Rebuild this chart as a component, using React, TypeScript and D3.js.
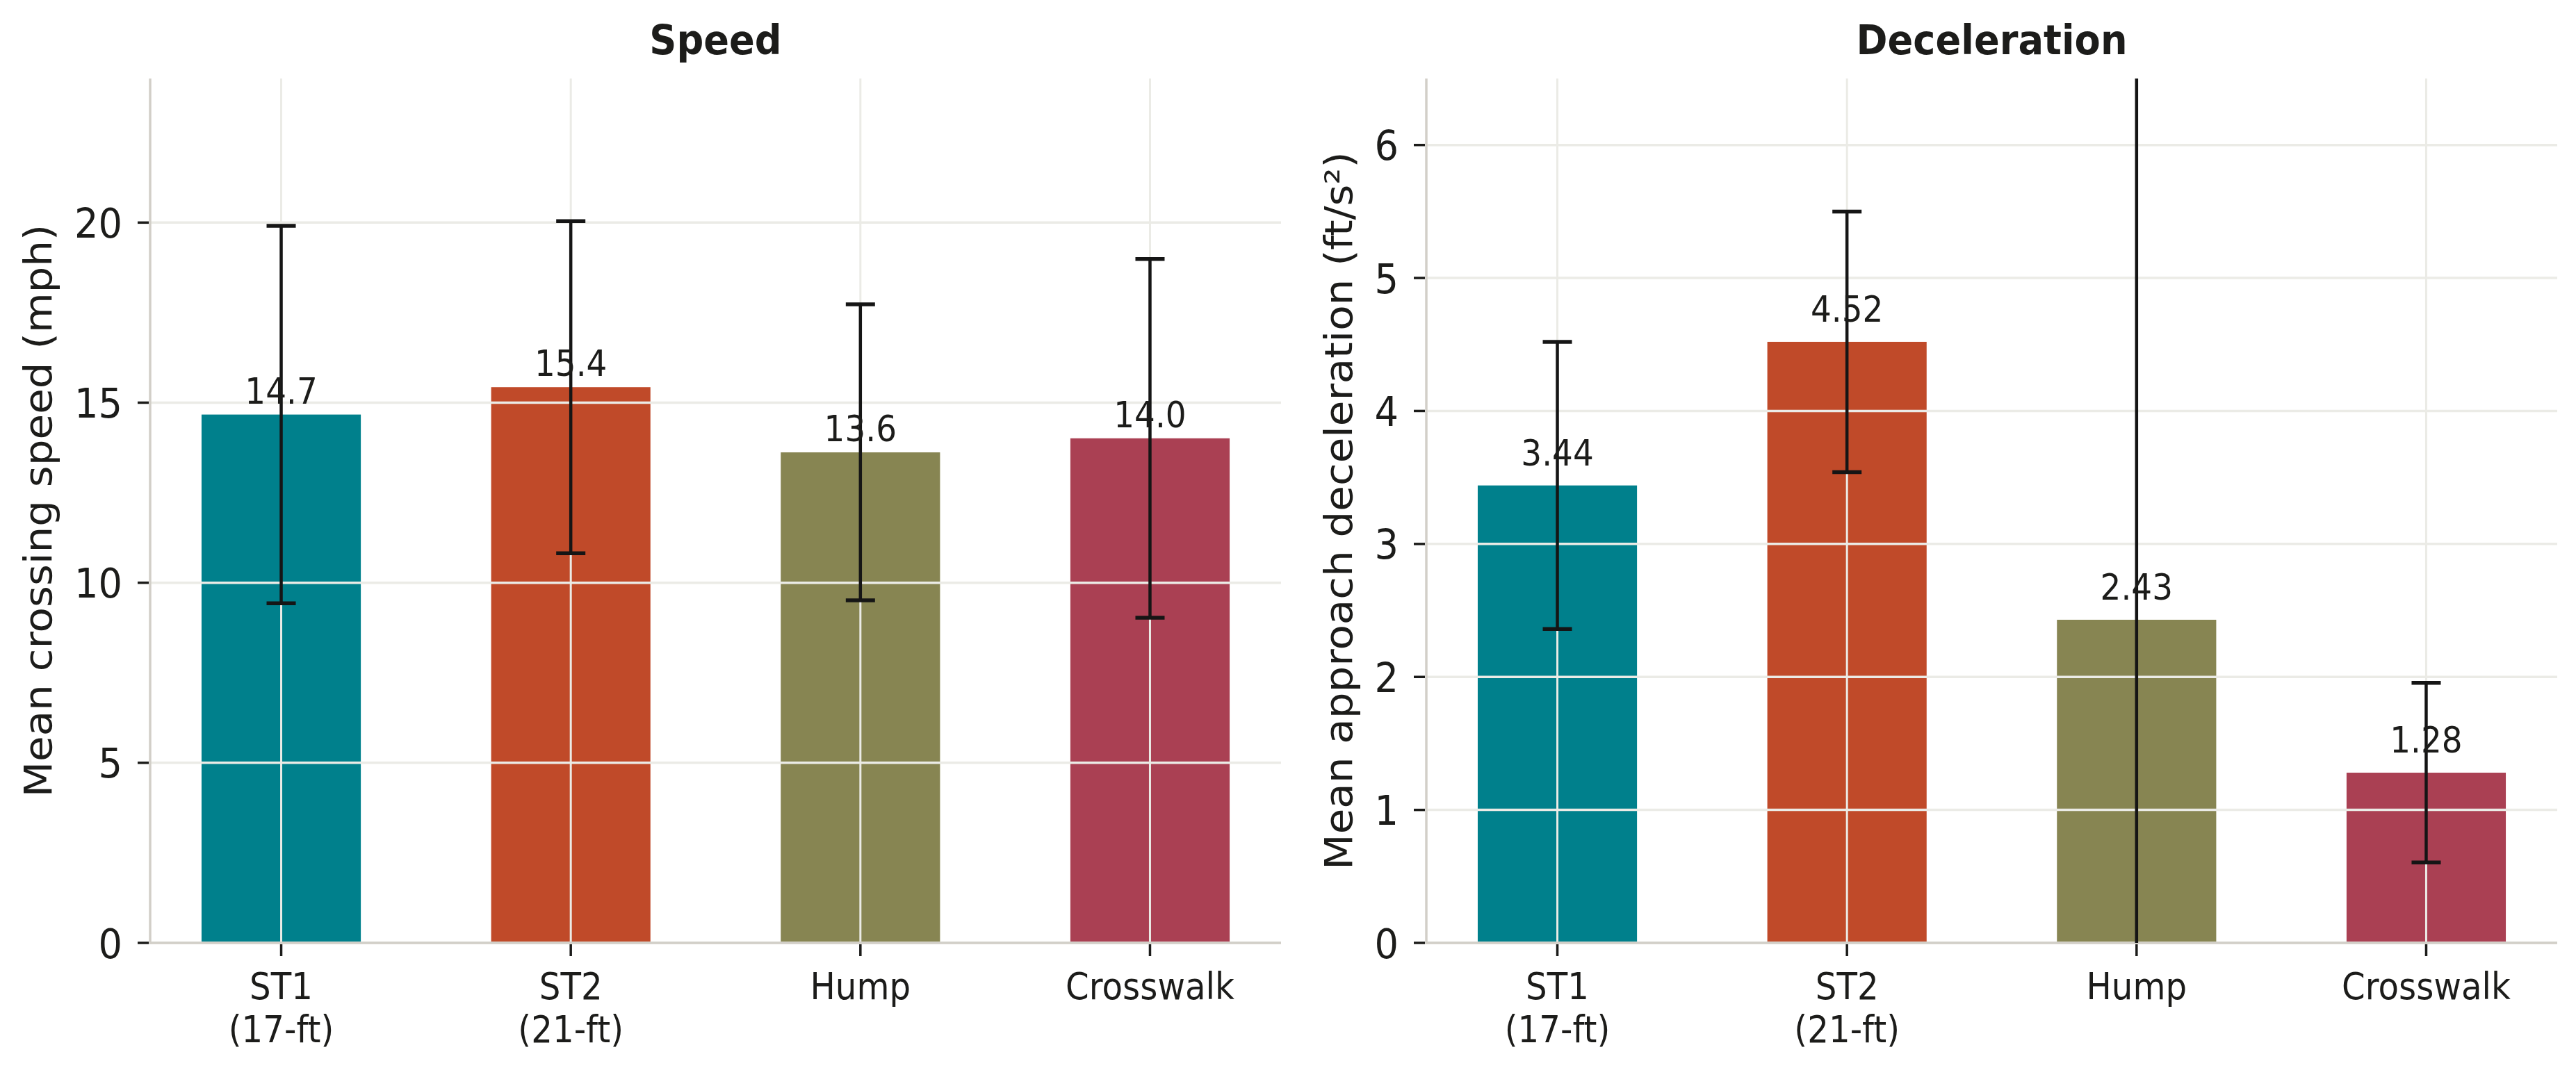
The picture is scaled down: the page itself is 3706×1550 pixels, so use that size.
import React from "react";
import * as d3 from "d3";

// ---------- data ----------
const categories: string[][] = [["ST1", "(17-ft)"], ["ST2", "(21-ft)"], ["Hump"], ["Crosswalk"]];
const barColors = ["#00808c", "#c04a29", "#878552", "#aa4053"];
const speedMeans = [14.67, 15.43, 13.62, 14.01];
const speedSD = [5.24, 4.61, 4.11, 4.98];
const decelMeans = [3.44, 4.52, 2.43, 1.28];
const decelSD = [1.08, 0.98, 4.5, 0.675];
const speedTicks = [0, 5, 10, 15, 20];
const decelTicks = [0, 1, 2, 3, 4, 5, 6];

// ---------- style ----------
const W = 3706;
const H = 1550;
const SX = 0.92; // horizontal text squeeze
const TEXT = "#1c1c1a";
const GRID = "#ebebe6";
const SPINE = "#d2cfc8";
const FONT = "'DejaVu Sans', 'Liberation Sans', sans-serif";

type PanelProps = {
  id: string;
  x0: number;
  x1: number;
  y0: number;
  y1: number;
  yMax: number;
  means: number[];
  sds: number[];
  ticks: number[];
  title: string;
  ylabel: string;
  digits: number;
  labelOffset: number;
  ylabelX: number;
};

function Panel(p: PanelProps) {
  const n = categories.length;
  const barW = 0.55;
  const pad = 0.05 * (n - 1 + barW);
  const x = d3
    .scaleLinear()
    .domain([-barW / 2 - pad, n - 1 + barW / 2 + pad])
    .range([p.x0, p.x1]);
  const y = d3.scaleLinear().domain([0, p.yMax]).range([p.y1, p.y0]);
  const idx = d3.range(n);
  const capHalf = 21;
  return (
    <g>
      <defs>
        <clipPath id={`clip-${p.id}`}>
          <rect x={p.x0} y={p.y0} width={p.x1 - p.x0} height={p.y1 - p.y0} />
        </clipPath>
      </defs>
      {/* bars */}
      {idx.map((i) => (
        <rect
          key={`b${i}`}
          x={x(i - barW / 2)}
          y={y(p.means[i])}
          width={x(i + barW / 2) - x(i - barW / 2)}
          height={y(0) - y(p.means[i])}
          fill={barColors[i]}
        />
      ))}
      {/* grid */}
      {p.ticks.map((t) => (
        <line key={`gh${t}`} x1={p.x0} x2={p.x1} y1={y(t)} y2={y(t)} stroke={GRID} strokeWidth={3.5} />
      ))}
      {idx.map((i) => (
        <line key={`gv${i}`} x1={x(i)} x2={x(i)} y1={p.y0} y2={p.y1} stroke={GRID} strokeWidth={3} />
      ))}
      {/* spines */}
      <line x1={p.x0} x2={p.x0} y1={p.y0} y2={p.y1 + 1.5} stroke={SPINE} strokeWidth={3.5} />
      <line x1={p.x0 - 1.5} x2={p.x1} y1={p.y1} y2={p.y1} stroke={SPINE} strokeWidth={3.5} />
      {/* ticks */}
      {p.ticks.map((t) => (
        <g key={`ty${t}`}>
          <line x1={p.x0 - 18} x2={p.x0 - 2} y1={y(t)} y2={y(t)} stroke={TEXT} strokeWidth={3.5} />
          <text
            transform={`translate(${p.x0 - 40},${y(t) + 21.5}) scale(${SX},1)`}
            textAnchor="end"
            fontSize={59}
            fill={TEXT}
            fontFamily={FONT}
          >
            {t}
          </text>
        </g>
      ))}
      {idx.map((i) => (
        <g key={`tx${i}`}>
          <line x1={x(i)} x2={x(i)} y1={p.y1 + 2} y2={p.y1 + 19} stroke={TEXT} strokeWidth={3.5} />
          <text
            transform={`translate(${x(i)},${p.y1 + 81}) scale(${SX},1)`}
            textAnchor="middle"
            fontSize={52.5}
            fill={TEXT}
            fontFamily={FONT}
          >
            {categories[i].map((line, k) => (
              <tspan key={k} x={0} dy={k === 0 ? 0 : 62}>
                {line}
              </tspan>
            ))}
          </text>
        </g>
      ))}
      {/* error bars */}
      <g clipPath={`url(#clip-${p.id})`} stroke="#151515">
        {idx.map((i) => {
          const lo = y(p.means[i] - p.sds[i]);
          const hi = y(p.means[i] + p.sds[i]);
          return (
            <g key={`e${i}`}>
              <line x1={x(i)} x2={x(i)} y1={lo} y2={hi} strokeWidth={4.5} />
              <line x1={x(i) - capHalf} x2={x(i) + capHalf} y1={lo} y2={lo} strokeWidth={5.5} />
              <line x1={x(i) - capHalf} x2={x(i) + capHalf} y1={hi} y2={hi} strokeWidth={5.5} />
            </g>
          );
        })}
      </g>
      {/* value labels */}
      {idx.map((i) => (
        <text
          key={`v${i}`}
          transform={`translate(${x(i)},${y(p.means[i] + p.labelOffset)}) scale(${SX},1)`}
          textAnchor="middle"
          fontSize={51}
          fill={TEXT}
          fontFamily={FONT}
        >
          {p.means[i].toFixed(p.digits)}
        </text>
      ))}
      {/* y label */}
      <text
        transform={`translate(${p.ylabelX},${(p.y0 + p.y1) / 2}) scale(${SX},1) rotate(-90)`}
        textAnchor="middle"
        fontSize={59.5}
        fill={TEXT}
        fontFamily={FONT}
      >
        {p.ylabel}
      </text>
      {/* title */}
      <text
        transform={`translate(${(p.x0 + p.x1) / 2},78) scale(${SX},1)`}
        textAnchor="middle"
        fontSize={59}
        fontWeight="bold"
        fill={TEXT}
        fontFamily={FONT}
      >
        {p.title}
      </text>
    </g>
  );
}

export default function App() {
  return (
    <svg
      width={W}
      height={H}
      viewBox={`0 0 ${W} ${H}`}
      style={{ position: "absolute", left: 0, top: 0, background: "#ffffff", display: "block" }}
    >
      <rect x={0} y={0} width={W} height={H} fill="#ffffff" />
      <Panel
        id="speed"
        x0={216}
        x1={1843}
        y0={113}
        y1={1357}
        yMax={24}
        means={speedMeans}
        sds={speedSD}
        ticks={speedTicks}
        title="Speed"
        ylabel="Mean crossing speed (mph)"
        digits={1}
        labelOffset={0.31}
        ylabelX={74}
      />
      <Panel
        id="decel"
        x0={2052}
        x1={3679}
        y0={113}
        y1={1357}
        yMax={6.5}
        means={decelMeans}
        sds={decelSD}
        ticks={decelTicks}
        title="Deceleration"
        ylabel="Mean approach deceleration (ft/s²)"
        digits={2}
        labelOffset={0.15}
        ylabelX={1945}
      />
    </svg>
  );
}
